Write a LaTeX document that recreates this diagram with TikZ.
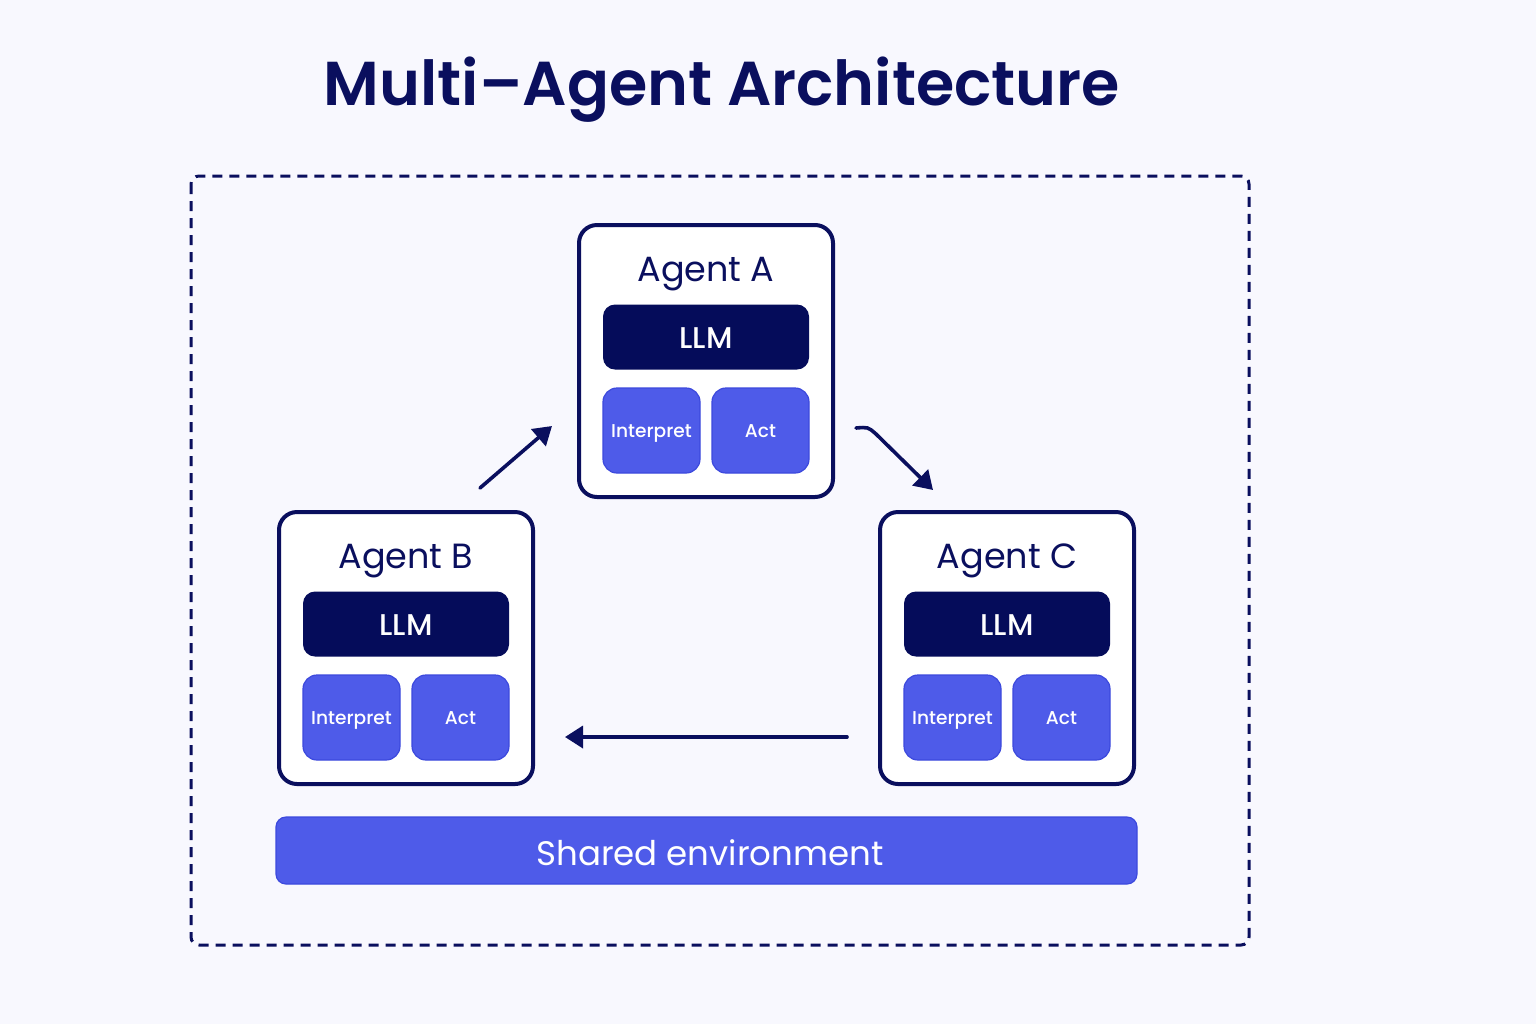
\documentclass[tikz,border=0pt]{standalone}
\usepackage{fontspec}
\setmainfont{Poppins}
\newfontfamily\semifont{Poppins SemiBold}
\newfontfamily\medfont{Poppins Medium}
\usetikzlibrary{arrows.meta,positioning,calc}

\definecolor{navy}{HTML}{0A0F5E}
\definecolor{llmfill}{HTML}{050C5A}
\definecolor{stepblue}{HTML}{4E5BE9}
\definecolor{stepedge}{HTML}{3C49DD}
\definecolor{bgcol}{HTML}{F8F8FE}

\tikzset{
  agentbox/.style={draw=navy,line width=2pt,fill=white,rounded corners=9pt,
    minimum width=127pt,minimum height=136pt,inner sep=0pt},
  agenttitle/.style={anchor=base,text=navy,font=\fontsize{17.5}{20}\selectfont},
  llmbox/.style={fill=llmfill,rounded corners=6pt,minimum width=103pt,
    minimum height=32.5pt,inner sep=0pt},
  llmtext/.style={anchor=base,text=white,font=\fontsize{15}{17}\medfont},
  stepbox/.style={fill=stepblue,draw=stepedge,line width=0.6pt,rounded corners=7pt,
    minimum width=48.5pt,minimum height=42.5pt,inner sep=0pt},
  steptext/.style={anchor=base,text=white,font=\fontsize{9.3}{11}\medfont},
  flow/.style={draw=navy,line width=1.8pt,-{Triangle[length=9pt,width=11pt]}}
}

\begin{document}
\begin{tikzpicture}[x=0.5pt,y=-0.5pt]
  % background and frame
  \fill[bgcol] (0,0) rectangle (1536,1024);
  \draw[navy,line width=1.5pt,dash pattern=on 5pt off 3.5pt,rounded corners=4pt]
    (191,176) rectangle (1249,945);

  \node[anchor=base,text=navy,font=\fontsize{31}{36}\semifont] (title)
    at (722,105) {Multi–Agent Architecture};

  % the three agents
  \foreach \nm/\cx/\cy/\lab in {A/706/361/Agent A,B/406/648/Agent B,C/1007/648/Agent C}{
    \node[agentbox] (ag\nm) at (\cx,\cy) {};
    \node[agenttitle] (ttl\nm) at ($(ag\nm.center)+(0,-80)$) {\lab};
    \node[llmbox] (llm\nm) at ($(ag\nm.center)+(0,-24)$) {};
    \node[llmtext] at ($(llm\nm.center)+(0,11)$) {LLM};
    \node[stepbox] (int\nm) at ($(ag\nm.center)+(-54.5,69.5)$) {};
    \node[stepbox] (act\nm) at ($(ag\nm.center)+(54.5,69.5)$) {};
    \node[steptext] at ($(int\nm.center)+(0,7)$) {Interpret};
    \node[steptext] at ($(act\nm.center)+(0,7)$) {Act};
  }

  % shared environment
  \node[fill=stepblue,draw=stepedge,line width=0.6pt,rounded corners=5pt,
    minimum width=430.5pt,minimum height=33.5pt,inner sep=0pt] (env) at (706.5,850.5) {};
  \node[anchor=base,text=white,font=\fontsize{17}{20}\selectfont] at (710,865) {Shared environment};

  % message flow
  \coordinate (baS) at (480,488);
  \coordinate (baE) at (552,426);
  \coordinate (acS) at (856,428);
  \coordinate (acE) at (933,490);
  \coordinate (cbS) at (847,737);
  \coordinate (cbE) at (565,737);
  \draw[flow,line cap=round] (baS) -- (baE);
  \draw[flow,line cap=round] (acS) .. controls (868,427) .. (876,434) -- (acE);
  \draw[flow,line cap=round] (cbS) -- (cbE);
\end{tikzpicture}
\end{document}
